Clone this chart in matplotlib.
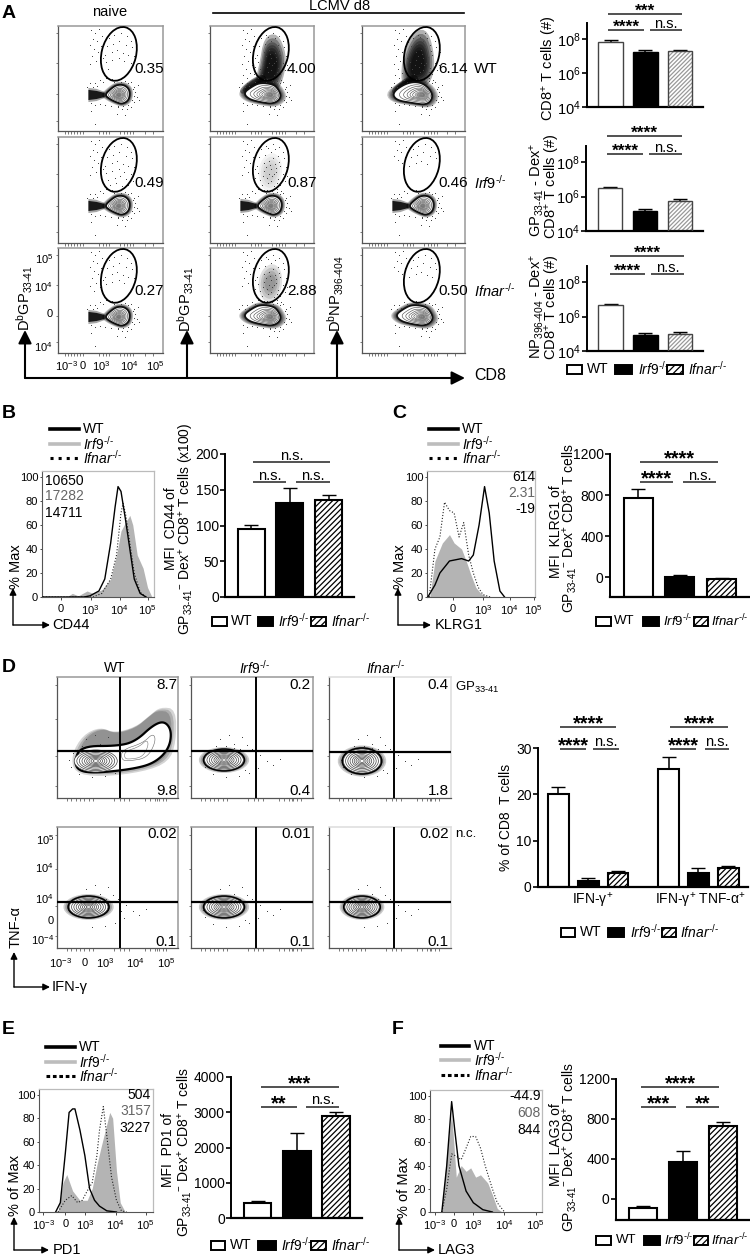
import matplotlib
matplotlib.use('Agg')
import matplotlib.pyplot as plt
from matplotlib.patches import Ellipse, Polygon, Rectangle

W, H = 750, 1257
plt.rcParams['font.family'] = ['Liberation Sans', 'DejaVu Sans']
plt.rcParams['mathtext.fontset'] = 'custom'
plt.rcParams['mathtext.rm'] = 'Liberation Sans'
plt.rcParams['mathtext.it'] = 'Liberation Sans:italic'
plt.rcParams['mathtext.bf'] = 'Liberation Sans:bold'
plt.rcParams['hatch.linewidth'] = 0.9

# bar values, (value, top of error bar)
a1_vals, a1_errs = [7.2e7, 1.7e7, 1.9e7], [9.1e7, 2.3e7, 2.3e7]
a2_vals, a2_errs = [3.0e6, 1.45e5, 5.8e5], [3.7e6, 1.8e5, 6.9e5]
a3_vals, a3_errs = [4.7e6, 8.3e4, 1.0e5], [5.8e6, 1.07e5, 1.2e5]
b_vals, b_errs = [95, 131, 135], [101, 153, 142]
c_vals, c_errs = [770, 0, -20], [860, 20, -5]
d_vals, d_errs = [20, 1.3, 3, 25.5, 3, 4], [21.5, 1.9, 3.4, 28, 4.1, 4.5]
e_vals, e_errs = [420, 1910, 2880], [480, 2400, 3000]
f_vals, f_errs = [-90, 375, 730], [-65, 485, 770]

# histograms, x in display units, y in % of max
b_wt = [(-0.6, 0), (0.8, 0), (1.0, 1), (1.3, 5), (1.5, 15), (1.7, 45), (1.85, 75), (1.95, 92), (2.05, 88), (2.2, 65), (2.35, 40), (2.5, 15), (2.7, 3), (2.9, 0)]
b_irf9 = [(-0.6, 0), (0.2, 0), (0.4, 3), (0.6, 1), (0.9, 5), (1.1, 3), (1.4, 6), (1.7, 15), (1.9, 35), (2.05, 55), (2.2, 62), (2.35, 68), (2.45, 60), (2.6, 35), (2.8, 24), (2.95, 8), (3.1, 0)]
b_ifnar = [(-0.6, 0), (1.1, 0), (1.4, 3), (1.7, 15), (1.9, 35), (2.05, 70), (2.12, 78), (2.2, 70), (2.35, 45), (2.5, 20), (2.7, 4), (2.9, 0)]
c_wt = [(-0.91, 0), (-0.65, 10), (-0.47, 20), (-0.12, 30), (0.32, 32), (0.58, 30), (0.75, 35), (0.96, 60), (1.16, 92), (1.33, 70), (1.51, 30), (1.72, 5), (1.89, 0)]
c_irf9 = [(-0.84, 0), (-0.65, 30), (-0.38, 45), (-0.12, 52), (0.05, 45), (0.32, 40), (0.49, 30), (0.67, 18), (0.84, 8), (1.02, 3), (1.19, 1), (1.4, 0)]
c_ifnar = [(-0.86, 0), (-0.65, 40), (-0.47, 50), (-0.3, 79), (-0.12, 72), (0.05, 70), (0.23, 50), (0.4, 62), (0.58, 35), (0.75, 20), (0.93, 8), (1.1, 2), (1.37, 0)]
e_wt = [(-0.33, 0), (-0.17, 8), (0, 50), (0.13, 85), (0.25, 88), (0.33, 88), (0.5, 70), (0.67, 48), (0.83, 20), (1.0, 10), (1.17, 5), (1.42, 1), (1.75, 0)]
e_irf9 = [(-0.25, 0), (-0.08, 25), (0.05, 32), (0.25, 18), (0.5, 10), (0.75, 10), (0.92, 20), (1.08, 40), (1.22, 55), (1.42, 75), (1.52, 85), (1.62, 80), (1.75, 35), (1.88, 8), (2.05, 0)]
e_ifnar = [(-0.25, 0), (0, 10), (0.22, 14), (0.42, 8), (0.58, 10), (0.75, 18), (0.92, 25), (1.08, 48), (1.17, 70), (1.3, 90), (1.42, 65), (1.58, 30), (1.75, 10), (1.92, 1), (2.1, 0)]
f_wt = [(-0.42, 0), (-0.25, 40), (-0.08, 95), (0.03, 70), (0.17, 40), (0.42, 18), (0.67, 8), (1.0, 2), (1.33, 0)]
f_irf9 = [(-0.42, 0), (-0.25, 50), (-0.08, 85), (0.08, 30), (0.25, 40), (0.42, 35), (0.58, 38), (0.75, 30), (0.92, 32), (1.17, 25), (1.33, 15), (1.5, 3), (1.67, 0)]
f_ifnar = [(-0.42, 0), (-0.25, 20), (-0.08, 50), (0.08, 48), (0.25, 45), (0.42, 55), (0.58, 65), (0.75, 65), (0.92, 55), (1.08, 40), (1.33, 20), (1.5, 8), (1.75, 0)]

gate_dots = [(50.3, 12.1), (55.6, 8.4), (62.2, 6.7), (68.4, 9.5), (72.1, 14.6), (48.7, 20.2), (54.1, 17.9), (60.5, 14.3), (66.8, 18.6), (73.3, 21.1),
             (46.2, 28.7), (52.8, 25.4), (58.3, 23.2), (63.9, 26.5), (69.1, 28.3), (75.4, 29.8), (47.5, 35.1), (53.2, 33.6), (59.7, 31.2), (65.3, 34.4),
             (71.6, 36.9), (49.1, 42.3), (55.8, 40.7), (61.4, 38.2), (67.2, 41.5), (73.5, 43.1), (51.6, 47.2), (57.3, 45.8), (62.9, 48.4), (68.7, 47.3),
             (56.4, 52.1), (61.1, 53.6), (65.7, 51.2), (70.2, 52.8), (45.3, 16.2), (77.1, 25.4), (44.6, 40.2), (76.2, 38.8), (57.5, 11.3), (64.3, 11.8),
             (59.2, 27.4), (64.8, 30.1), (60.6, 43.3), (63.4, 36.7), (58.1, 36.2), (66.1, 45.2), (62.2, 21.1), (55.1, 29.7), (67.9, 24.2), (52.2, 38.6)]
left_dots = [(32.1, 4.2), (36.4, 7.3), (40.2, 3.1), (43.6, 9.4), (34.5, 12.6), (38.8, 15.2), (31.2, 18.4), (42.1, 19.6), (35.3, 22.7), (39.6, 26.1),
             (33.2, 29.4), (44.3, 31.2), (37.1, 34.2), (31.8, 37.5), (41.4, 38.3), (35.8, 42.6), (39.2, 46.4), (32.9, 48.2), (43.5, 47.6), (36.7, 51.2)]
halo_dots = [(28.2, 60.4), (31.7, 56.2), (36.3, 55.8), (41.5, 53.1), (47.2, 51.4), (52.9, 52.2), (60.4, 52.6), (66.3, 54.2), (72.1, 55.7), (75.3, 60.1),
             (76.2, 65.4), (77.5, 70.2), (74.8, 75.3), (72.3, 79.4), (68.2, 82.1), (63.4, 81.6), (58.7, 80.2), (52.1, 78.4), (46.3, 78.2), (41.7, 76.9),
             (36.2, 78.3), (32.6, 76.4), (34.5, 60.2), (38.1, 58.7), (44.2, 55.3), (55.6, 54.8), (62.1, 55.1), (69.4, 56.3), (73.6, 62.5), (74.5, 68.7),
             (72.8, 73.4), (69.3, 78.2), (64.5, 79.3), (59.6, 78.6), (32.4, 83.6), (36.2, 96.4), (58.4, 86.4), (66.2, 88.2), (78.4, 58.3), (80.3, 72.6)]
d_dots = [(20.4, 62.2), (26.3, 57.5), (30.2, 66.8), (35.6, 60.3), (39.2, 68.1), (17.2, 68.6), (24.5, 69.4), (29.7, 71.2), (14.6, 73.4), (34.3, 71.8),
          (42.6, 72.3), (48.2, 78.4), (52.7, 83.5), (57.3, 88.2), (62.2, 82.3), (46.4, 90.6), (44.3, 84.2), (40.1, 95.6), (33.2, 98.7), (24.1, 100.4),
          (15.4, 97.2), (9.8, 90.3), (8.4, 82.5), (11.2, 76.3), (37.4, 93.2), (47.2, 87.4), (38.3, 50.2), (26.8, 38.6), (32.5, 26.2), (28.4, 12.5),
          (55.3, 71.2), (60.4, 68.3), (70.2, 52.4), (66.4, 30.3), (22.4, 47.6), (18.3, 55.2)]

gate_core_4 = [(56, 23), (64, 21), (69, 33), (68, 45), (64, 55), (56, 56), (49, 55), (53, 41)]
gate_core_6 = [(53, 18), (61, 18), (65, 35), (63, 48), (56, 53), (48, 53), (45, 48), (46, 33)]
gate_faint = [(52, 22), (62, 16), (70, 24), (70, 40), (62, 53), (52, 50), (48, 36)]
drop_naive = [(46, 68), (52, 62), (58, 58), (65, 58), (70, 62), (71, 68), (69, 74), (63, 77), (57, 75), (51, 72)]
drop_lcmv = [(33, 66), (41, 60), (49, 56), (60, 57), (66, 60), (71, 70), (63, 77), (49, 75), (38, 72)]
drop_wide = [(30, 65), (46, 55), (61, 56), (71, 68), (65, 78), (50, 76), (33, 73)]
wt_outer = [(12, 84), (17, 69), (43, 69), (55, 64), (67, 48), (75, 44), (80, 54), (78, 72), (68, 86), (53, 92), (27, 96), (15, 94)]
wt_arc = [(45, 73), (60, 66), (67, 56), (69, 64), (63, 81), (50, 84), (45, 83)]
wt_cloud = [(10, 78), (18, 58), (30, 50), (40, 56), (55, 50), (65, 38), (72, 30), (83, 32), (83, 65), (78, 85), (60, 95), (30, 100), (12, 96)]

fig = plt.figure(figsize=(W / 100, H / 100), dpi=100, facecolor='white')


def px_axes(x0, y0, x1, y1):
    return fig.add_axes([x0 / W, 1 - y1 / H, (x1 - x0) / W, (y1 - y0) / H])


def smooth(pts, n=3):
    for _ in range(n):
        new = []
        for i in range(len(pts)):
            a, b = pts[i], pts[(i + 1) % len(pts)]
            new.append((0.75 * a[0] + 0.25 * b[0], 0.75 * a[1] + 0.25 * b[1]))
            new.append((0.25 * a[0] + 0.75 * b[0], 0.25 * a[1] + 0.75 * b[1]))
        pts = new
    return pts


def scaled(pts, s, c):
    return [(c[0] + (p[0] - c[0]) * s, c[1] + (p[1] - c[1]) * s) for p in pts]


def centroid(pts):
    return (sum(p[0] for p in pts) / len(pts), sum(p[1] for p in pts) / len(pts))


def dots(ax, pts, ms=0.7, color='#444444'):
    ax.plot([p[0] for p in pts], [p[1] for p in pts], ls='none', marker='s', ms=ms, mew=0, color=color)


def cloud(ax, pts, scales, alpha, z=1):
    c = centroid(pts)
    shape = smooth(pts, 2)
    for s in scales:
        ax.add_patch(Polygon(scaled(shape, s, c), fc='k', ec='none', alpha=alpha, zorder=z))


def frame(box, kx, ky, light=False):
    x0, y0, x1, y1 = box
    ax = px_axes(x0, y0, x1, y1)
    w, h = (x1 - x0) / kx, (y1 - y0) / ky
    ax.set_xlim(0, w)
    ax.set_ylim(h, 0)
    for s in ['left', 'bottom']:
        ax.spines[s].set_color('#555555')
        ax.spines[s].set_linewidth(0.9)
    for s in ['top', 'right']:
        ax.spines[s].set_color('#dddddd' if light else '#999999')
        ax.spines[s].set_linewidth(1.1)
    ax.set_xticks([7, 10, 13, 16, 19, 22, 25, 40, 44, 47, 50, 61, 65, 68, 71, 74, w * 0.83, w * 0.9])
    ax.set_yticks([h * 0.07, h * 0.35, h * 0.65, h * 0.9])
    ax.tick_params(length=1.8, width=0.5, color='#444444', labelbottom=False, labelleft=False, pad=1)
    return ax


def flow_a(col, row, drop, n_gate, n_left, smear=0, core=None, faint=0.0, band=False):
    xs = [(58, 163), (210, 314), (362, 465)]
    ys = [(26, 131), (137, 243), (248, 353)]
    ax = frame((xs[col][0], ys[row][0], xs[col][1], ys[row][1]), 1.0142, 1.0142)
    dots(ax, gate_dots[:n_gate])
    dots(ax, left_dots[:n_left])
    dots(ax, halo_dots)
    if faint:
        cloud(ax, gate_faint, [1.1, 0.9, 0.7, 0.5], faint)
    if core is not None:
        cloud(ax, core, [1.7, 1.5, 1.3, 1.15, 1.0, 0.85, 0.7], 0.3)
    if band:
        cloud(ax, [(31, 62), (40, 54), (50, 49), (54, 54), (42, 60), (34, 66)], [1.25, 1.0, 0.8], 0.45)
    cloud(ax, drop, [1.32, 1.25, 1.18, 1.12, 1.07], 0.22)
    if smear:
        ax.add_patch(Polygon([(30, 61), (38, 62), (smear, 65), (smear, 71), (38, 74), (30, 75)], fc='k', ec='none', alpha=0.35, zorder=2))
        ax.add_patch(Polygon([(30, 63), (38, 64), (smear, 66), (smear, 70), (38, 72), (30, 73)], fc='k', ec='none', alpha=0.85, zorder=2))
    out = smooth(drop)
    ax.add_patch(Polygon(out, fc='white', ec='#111111', lw=1.3, zorder=3))
    cc = (60, 68)
    for s in [0.8, 0.66, 0.54, 0.44, 0.35, 0.27, 0.2, 0.14, 0.08]:
        ax.add_patch(Polygon(scaled(out, s, cc), fc='#999999' if s < 0.3 else 'none', alpha=0.6 if s < 0.3 else 1, ec='#555555', lw=0.45, zorder=4))
    gx = [60, 60, 59][col]
    ax.add_patch(Ellipse((gx, 27.5), 34, 54, angle=14, fc='none', ec='k', lw=1.3, zorder=5))
    return ax


def flow_d(col, row, center, size=(27, 20), n=25, wt=False):
    xs = [(57, 178), (191, 313), (329, 451)]
    ys = [(677, 798), (827, 948)]
    ax = frame((xs[col][0], ys[row][0], xs[col][1], ys[row][1]), 1.435, 1.0, light=(col == 2))
    dots(ax, d_dots[:n], ms=0.7)
    if wt:
        cloud(ax, wt_cloud, [1.0, 0.95, 0.9], 0.17)
        out = smooth(wt_outer)
        ax.add_patch(Polygon(out, fc='white', ec='k', lw=1.6, zorder=2))
        ax.add_patch(Polygon(smooth(wt_arc), fc='white', ec='#666666', lw=0.4, zorder=3))
        ax.add_patch(Polygon(scaled(smooth(wt_arc), 0.7, (52, 78)), fc='none', ec='#777777', lw=0.4, zorder=3))
    else:
        e = [(center[0] + dx * size[0], center[1] + dy * size[1]) for dx, dy in
             [(-0.5, 0), (-0.35, -0.35), (0, -0.5), (0.35, -0.35), (0.5, 0), (0.35, 0.35), (0, 0.5), (-0.35, 0.35)]]
        cloud(ax, e, [1.4, 1.3, 1.2, 1.12], 0.2)
        ax.add_patch(Ellipse(center, size[0] * 1.04, size[1] * 1.06, fc='none', ec='k', lw=1.6, zorder=2))
    for s in [1.0, 0.88, 0.76, 0.64, 0.52, 0.42, 0.32, 0.22, 0.12]:
        ax.add_patch(Ellipse(center, size[0] * s, size[1] * s, fc='white' if s == 1.0 else 'none', ec='#444444', lw=0.5, zorder=4))
    vx = [44, 45, 45][col]
    hy = [[74, 74, 75], [75, 75, 75]][row][col]
    ax.axvline(vx, color='k', lw=1.4, zorder=6)
    ax.axhline(hy, color='k', lw=1.6, zorder=6)
    return ax


def hist_axes(box, xlim, xticks, xlabels, wt, irf9, ifnar):
    ax = px_axes(*box)
    ax.set_xlim(*xlim)
    ax.set_ylim(0, 105)
    ax.fill_between([p[0] for p in irf9], [p[1] for p in irf9], color='#b4b4b4', lw=0, zorder=2)
    ax.plot([p[0] for p in ifnar], [p[1] for p in ifnar], color='#222222', lw=0.8, ls=':', zorder=3)
    ax.plot([p[0] for p in wt], [p[1] for p in wt], color='k', lw=1.0, zorder=4)
    ax.set_xticks(xticks)
    ax.set_xticklabels(xlabels, fontsize=8)
    ax.set_yticks([0, 20, 40, 60, 80, 100])
    ax.tick_params(axis='y', labelsize=8, length=1.8, width=0.5, pad=1)
    ax.tick_params(axis='x', length=1.8, width=0.5, pad=3)
    for s in ['left', 'bottom']:
        ax.spines[s].set_linewidth(0.8)
        ax.spines[s].set_color('#555555')
    for s in ['top', 'right']:
        ax.spines[s].set_linewidth(0.9)
        ax.spines[s].set_color('#bbbbbb')
    return ax


def bar_axes(x0, x1, top, bottom, ylim, ticks, labels, vals, errs, log=False, pos=(0, 1, 2), light=False, bw=0.7, size=10):
    ax = px_axes(x0, top, x1, bottom)
    if log:
        ax.set_yscale('log')
    ax.set_ylim(*ylim)
    lo = ylim[0]
    for i, (p, v, e) in enumerate(zip(pos, vals, errs)):
        kind = i % 3
        ec = '#444444' if light else 'k'
        lw = 1.0 if light else 1.5
        ax.errorbar([p], [v], yerr=[[0], [e - v]], color='k', lw=1.1, capsize=5, capthick=1.0, zorder=1, fmt='none')
        if kind == 0:
            ax.bar(p, v - lo, bw, bottom=lo, fc='white', ec=ec, lw=lw, zorder=2)
        elif kind == 1:
            ax.bar(p, v - lo, bw, bottom=lo, fc='k', ec='k', lw=lw, zorder=2)
        else:
            ax.bar(p, v - lo, bw, bottom=lo, fc='white', ec='#999999' if light else 'k', lw=0, hatch='////////' if light else '//////', zorder=2)
            ax.bar(p, v - lo, bw, bottom=lo, fc='none', ec=ec, lw=lw, zorder=3)
    ax.set_xlim(pos[0] - 0.68, pos[-1] + 0.66)
    ax.set_xticks([])
    ax.set_yticks(ticks)
    ax.set_yticklabels(labels, fontsize=size)
    ax.minorticks_off()
    ax.tick_params(axis='y', length=3.5, width=1.2, pad=1)
    ax.spines['top'].set_visible(False)
    ax.spines['right'].set_visible(False)
    ax.spines['left'].set_linewidth(1.4)
    ax.spines['bottom'].set_linewidth(1.6)
    return ax


# panel A dot plots
flow_a(0, 0, drop_naive, 22, 14, smear=46)
flow_a(1, 0, drop_lcmv, 50, 20, core=gate_core_4, band=True)
flow_a(2, 0, drop_wide, 50, 20, core=gate_core_6, band=True)
flow_a(0, 1, drop_naive, 30, 14, smear=46)
flow_a(1, 1, drop_naive, 50, 14, smear=46, faint=0.05)
flow_a(2, 1, drop_naive, 14, 10, smear=46)
flow_a(0, 2, drop_naive, 20, 16, smear=46)
flow_a(1, 2, drop_lcmv, 50, 14, faint=0.12)
flow_a(2, 2, drop_lcmv, 16, 10)

# panel D dot plots
flow_d(0, 0, (27, 84), size=(30, 22), wt=True)
flow_d(1, 0, (23, 83))
flow_d(2, 0, (23, 84), size=(26, 24))
flow_d(0, 1, (22, 80), n=20)
flow_d(1, 1, (23, 80), n=25)
flow_d(2, 1, (23, 80), n=20, size=(24, 20))

# histograms
lab_b = ['0', '$10^3$', '$10^4$', '$10^5$']
hist_axes((42, 471, 154, 597), (-0.63, 3.17), [0, 1.02, 2.0, 2.95], lab_b, b_wt, b_irf9, b_ifnar)
hist_axes((427, 471, 535, 597), (-0.94, 3.0), [0, 1.1, 2.07, 2.95], lab_b, c_wt, c_irf9, c_ifnar)
lab_e = ['$10^{-3}$', '0', '$10^3$', '$10^4$', '$10^5$']
hist_axes((39, 1089, 153, 1212), (-0.9, 3.0), [-0.75, 0, 0.67, 1.72, 2.75], lab_e, e_wt, e_irf9, e_ifnar)
hist_axes((430, 1090, 542, 1212), (-0.83, 3.05), [-0.67, 0, 0.67, 1.75, 2.83], lab_e, f_wt, f_irf9, f_ifnar)

# bar charts
log_ticks = [1e4, 1e6, 1e8]
log_labels = ['$10^4$', '$10^6$', '$10^8$']
log_lim = (1e4, 10 ** 8.95)
bar_axes(587, 703, 23, 107, log_lim, log_ticks, log_labels, a1_vals, a1_errs, log=True, light=True, size=10.5)
bar_axes(586, 703, 146, 231, log_lim, log_ticks, log_labels, a2_vals, a2_errs, log=True, light=True, size=10.5)
bar_axes(587, 703, 266, 351, log_lim, log_ticks, log_labels, a3_vals, a3_errs, log=True, light=True, size=10.5)
bar_axes(225, 354, 454, 597, (0, 200), [0, 50, 100, 150, 200], ['0', '50', '100', '150', '200'], b_vals, b_errs)
bar_axes(610, 749, 454, 597, (-195, 1200), [0, 400, 800, 1200], ['0', '400', '800', '1200'], c_vals, c_errs)
bar_axes(538, 748, 748, 887, (0, 30), [0, 10, 20, 30], ['0', '10', '20', '30'], d_vals, d_errs, pos=(0, 1, 2, 3.7, 4.7, 5.7))
bar_axes(231, 362, 1077, 1218, (0, 4000), [0, 1000, 2000, 3000, 4000], ['0', '1000', '2000', '3000', '4000'], e_vals, e_errs)
bar_axes(616, 749, 1079, 1220, (-210, 1200), [0, 400, 800, 1200], ['0', '400', '800', '1200'], f_vals, f_errs)

# everything else sits on a pixel overlay
T = fig.add_axes([0, 0, 1, 1], facecolor='none')
T.set_xlim(0, W)
T.set_ylim(H, 0)
T.axis('off')
IRF = r'$\mathit{Irf9}^{\text{-/-}}$'
IFN = r'$\mathit{Ifnar}^{\text{-/-}}$'
GP = r'GP$_{33\text{-}41}$'
CELLS = GP + r'$^{-}$ Dex$^{+}$ CD8$^{+}$ T cells'


def txt(x, y, s, size=10, ha='left', va='center', **kw):
    T.text(x, y, s, fontsize=size, ha=ha, va=va, **kw)


def vtxt(x, y, s, size=10):
    # x is the baseline of the rotated text
    T.text(x, y, s, fontsize=size, rotation=90, ha='center', va='baseline', rotation_mode='anchor')


def arrow(x0, y0, x1, y1, lw=1.0, scale=10):
    T.annotate('', xy=(x1, y1), xytext=(x0, y0), arrowprops=dict(arrowstyle='-|>', lw=lw, color='k', mutation_scale=scale, shrinkA=0, shrinkB=0))


def bracket(x0, x1, y, label, star=14.5):
    T.plot([x0, x1], [y, y], color='#333333', lw=1.2, solid_capstyle='butt')
    if '*' in label:
        T.text((x0 + x1) / 2, y + (1.5 if star < 13 else 2.7), label, fontsize=star, fontweight='bold', ha='center', va='baseline')
    else:
        T.text((x0 + x1) / 2, y - 2.5, label, fontsize=10.5, ha='center', va='baseline')


def bar_legend(y, boxes, names, h=9, size=10):
    for (x0, x1, tx), name, kind in zip(boxes, names, [0, 1, 2]):
        if kind == 2:
            T.add_patch(Rectangle((x0, y - h / 2), x1 - x0, h, fc='white', ec='k', lw=0, hatch='/////'))
            T.add_patch(Rectangle((x0, y - h / 2), x1 - x0, h, fc='none', ec='k', lw=1.4))
        else:
            T.add_patch(Rectangle((x0, y - h / 2), x1 - x0, h, fc='k' if kind else 'white', ec='k', lw=1.4))
        txt(tx, y, name, size)


def line_legend(x0, x1, tx, ys, style, size=10):
    T.plot([x0, x1], [ys[0], ys[0]], color='k', lw=2.6)
    txt(tx, ys[0], 'WT', size)
    T.plot([x0, x1], [ys[1], ys[1]], color='#bdbdbd', lw=2.6)
    txt(tx, ys[1], IRF, size)
    T.plot([x0, x1], [ys[2], ys[2]], color='k', lw=2.2, ls=style)
    txt(tx, ys[2], IFN, size)


for x, y, s in [(2, 13, 'A'), (2, 414, 'B'), (392, 414, 'C'), (2, 668, 'D'), (2, 1030, 'E'), (392, 1030, 'F')]:
    txt(x, y, s, 14, fontweight='bold')

# panel A text
txt(110, 12, 'naive', 10.5, ha='center')
txt(340, 6, 'LCMV d8', 10.5, ha='center')
T.plot([213, 464], [13, 13], color='k', lw=1.2)
a_nums = [['0.35', '4.00', '6.14'], ['0.49', '0.87', '0.46'], ['0.27', '2.88', '0.50']]
for r, y in enumerate([69, 183, 291]):
    for c, x in enumerate([134, 287, 438]):
        txt(x, y, a_nums[r][c], 11)
txt(474, 69, 'WT', 11)
txt(474, 183, IRF, 10.5)
txt(474, 291, IFN, 10.5)
for y, s in [(259, '$10^5$'), (287, '$10^4$'), (314, '0'), (347, '$10^4$')]:
    txt(53, y, s, 8, ha='right')
for x, s in [(66, '$10^{-3}$'), (83, '0'), (101, '$10^3$'), (129, '$10^4$'), (155, '$10^5$')]:
    txt(x, 366, s, 8, ha='center')
for x in [25, 187, 337]:
    arrow(x, 378, x, 330, lw=1.5, scale=20)
arrow(25, 378, 465, 378, lw=1.5, scale=20)
txt(474, 376, 'CD8', 11.5)
vtxt(30, 298, r'D$^{\rm b}$' + GP, 10.5)
vtxt(191, 299, r'D$^{\rm b}$' + GP, 10.5)
vtxt(341, 294, r'D$^{\rm b}$NP$_{396\text{-}404}$', 10.5)
vtxt(554, 68, r'CD8$^{+}$ T cells (#)', 10.5)
vtxt(541, 190, GP + r' - Dex$^{+}$', 10.5)
vtxt(557, 186, r'CD8$^{+}$ T cells (#)', 10.5)
vtxt(541, 306, r'NP$_{396\text{-}404}$ - Dex$^{+}$', 10.5)
vtxt(557, 307, r'CD8$^{+}$ T cells (#)', 10.5)
bracket(608, 682, 14, '***', 12.5)
bracket(608, 644, 30, '****', 12.5)
bracket(650, 682, 30, 'n.s.')
bracket(607, 682, 136, '****', 12.5)
bracket(607, 643, 154, '****', 12.5)
bracket(649, 682, 154, 'n.s.')
bracket(610, 684, 256, '****', 12.5)
bracket(610, 645, 274, '****', 12.5)
bracket(651, 684, 274, 'n.s.')
bar_legend(369, [(567, 582, 587), (615, 632, 638), (667, 683, 688)], ['WT', IRF, IFN], size=10)

# panel B, C text
line_legend(50, 79, 83, [429, 444, 458], ':')
line_legend(429, 458, 462, [429, 444, 458], ':')
for y, s, c in [(481, '10650', 'k'), (496, '17282', '#666666'), (513, '14711', 'k')]:
    txt(44.5, y, s, 10, color=c)
for y, s, c in [(477, '614', 'k'), (493, '2.31', '#666666'), (509, '-19', 'k')]:
    txt(535, y, s, 10, ha='right', color=c)
arrow(13, 625, 13, 588)
arrow(13, 625, 50, 625)
txt(52, 625, 'CD44', 10.5)
vtxt(20, 567, '% Max', 10.5)
arrow(398, 625, 398, 588)
arrow(398, 625, 431, 625)
txt(435, 625, 'KLRG1', 10.5)
vtxt(404, 567, '% Max', 10.5)
vtxt(175, 529, 'MFI  CD44 of')
vtxt(191, 529, GP + r'$^{-}$ Dex$^{+}$ CD8$^{+}$ T cells (x100)')
vtxt(560, 532, 'MFI  KLRG1 of')
vtxt(574, 528, CELLS)
bracket(253, 330, 462, 'n.s.')
bracket(253, 286, 482, 'n.s.')
bracket(296, 330, 482, 'n.s.')
bracket(640, 718, 462, '****')
bracket(640, 673, 482, '****')
bracket(683, 716, 482, 'n.s.')
bar_legend(621, [(212, 227, 231), (258, 273, 278), (311, 326, 331)], ['WT', IRF, IFN])
bar_legend(621, [(596, 611, 614), (643, 659, 663), (694, 708, 711)], ['WT', IRF, IFN], size=9.5)

# panel D text
txt(115, 668, 'WT', 10, ha='center')
txt(254, 668, IRF, 10, ha='center')
txt(386, 668, IFN, 10, ha='center')
d_top = [['8.7', '0.2', '0.4'], ['0.02', '0.01', '0.02']]
d_bottom = [['9.8', '0.4', '1.8'], ['0.1', '0.1', '0.1']]
for r, (yt, yb) in enumerate([(685, 791), (834, 942)]):
    for c, x in enumerate([177, 311, 449]):
        txt(x, yt, d_top[r][c], 11, ha='right')
        txt(x, yb, d_bottom[r][c], 11, ha='right')
txt(455, 687, GP, 9.5)
txt(455, 834, 'n.c.', 9.5)
for y, s in [(840, '$10^5$'), (868, '$10^4$'), (899, '$10^4$'), (921, '0'), (940, '$10^{-4}$')]:
    txt(54, y, s, 8, ha='right')
for x, s in [(60, '$10^{-3}$'), (85, '0'), (105, '$10^3$'), (135, '$10^4$'), (166, '$10^5$')]:
    txt(x, 963, s, 8, ha='center')
arrow(14, 987, 14, 952)
arrow(14, 987, 50, 987)
txt(52, 987, 'IFN-γ', 10.5)
vtxt(20, 927, 'TNF-α', 10.5)
vtxt(510, 817, '% of CD8  T cells')
txt(593, 901, 'IFN-γ$^{+}$', 10, ha='center')
txt(700, 901, 'IFN-γ$^{+}$ TNF-α$^{+}$', 10, ha='center')
bracket(560, 616, 727, '****')
bracket(560, 586, 749, '****')
bracket(593, 619, 749, 'n.s.')
bracket(670, 728, 727, '****')
bracket(670, 696, 749, '****')
bracket(705, 729, 749, 'n.s.')
bar_legend(932, [(561, 575, 580), (608, 624, 630), (662, 676, 680)], ['WT', IRF, IFN])

# panel E, F text
line_legend(46, 75, 79, [1047, 1062, 1076], (0, (1.2, 0.9)))
line_legend(441, 469, 474, [1046, 1060, 1075], (0, (1.2, 0.9)))
for y, s, c in [(1095, '504', 'k'), (1111, '3157', '#666666'), (1128, '3227', 'k')]:
    txt(151, y, s, 10, ha='right', color=c)
for y, s, c in [(1096, '-44.9', 'k'), (1113, '608', '#666666'), (1130, '844', 'k')]:
    txt(541, y, s, 10, ha='right', color=c)
arrow(14, 1250, 14, 1217)
arrow(14, 1250, 49, 1250)
txt(53, 1250, 'PD1', 10.5)
vtxt(19, 1185, '% of Max', 10.5)
arrow(399, 1250, 399, 1217)
arrow(399, 1250, 435, 1250)
txt(438, 1250, 'LAG3', 10.5)
vtxt(408, 1187, '% of Max', 10.5)
vtxt(172, 1150, 'MFI  PD1 of')
vtxt(189, 1152, CELLS)
vtxt(560, 1145, 'MFI  LAG3 of')
vtxt(574, 1147, CELLS)
bracket(261, 339, 1087, '***')
bracket(261, 297, 1107, '**')
bracket(306, 339, 1107, 'n.s.')
bracket(641, 719, 1087, '****')
bracket(641, 676, 1107, '***')
bracket(686, 719, 1107, '**')
bar_legend(1245, [(211, 225, 230), (258, 276, 281), (311, 326, 331)], ['WT', IRF, IFN])
bar_legend(1240, [(596, 611, 616), (644, 660, 664), (694, 708, 711)], ['WT', IRF, IFN], size=9.5)

fig.savefig('out.png', dpi=100)
